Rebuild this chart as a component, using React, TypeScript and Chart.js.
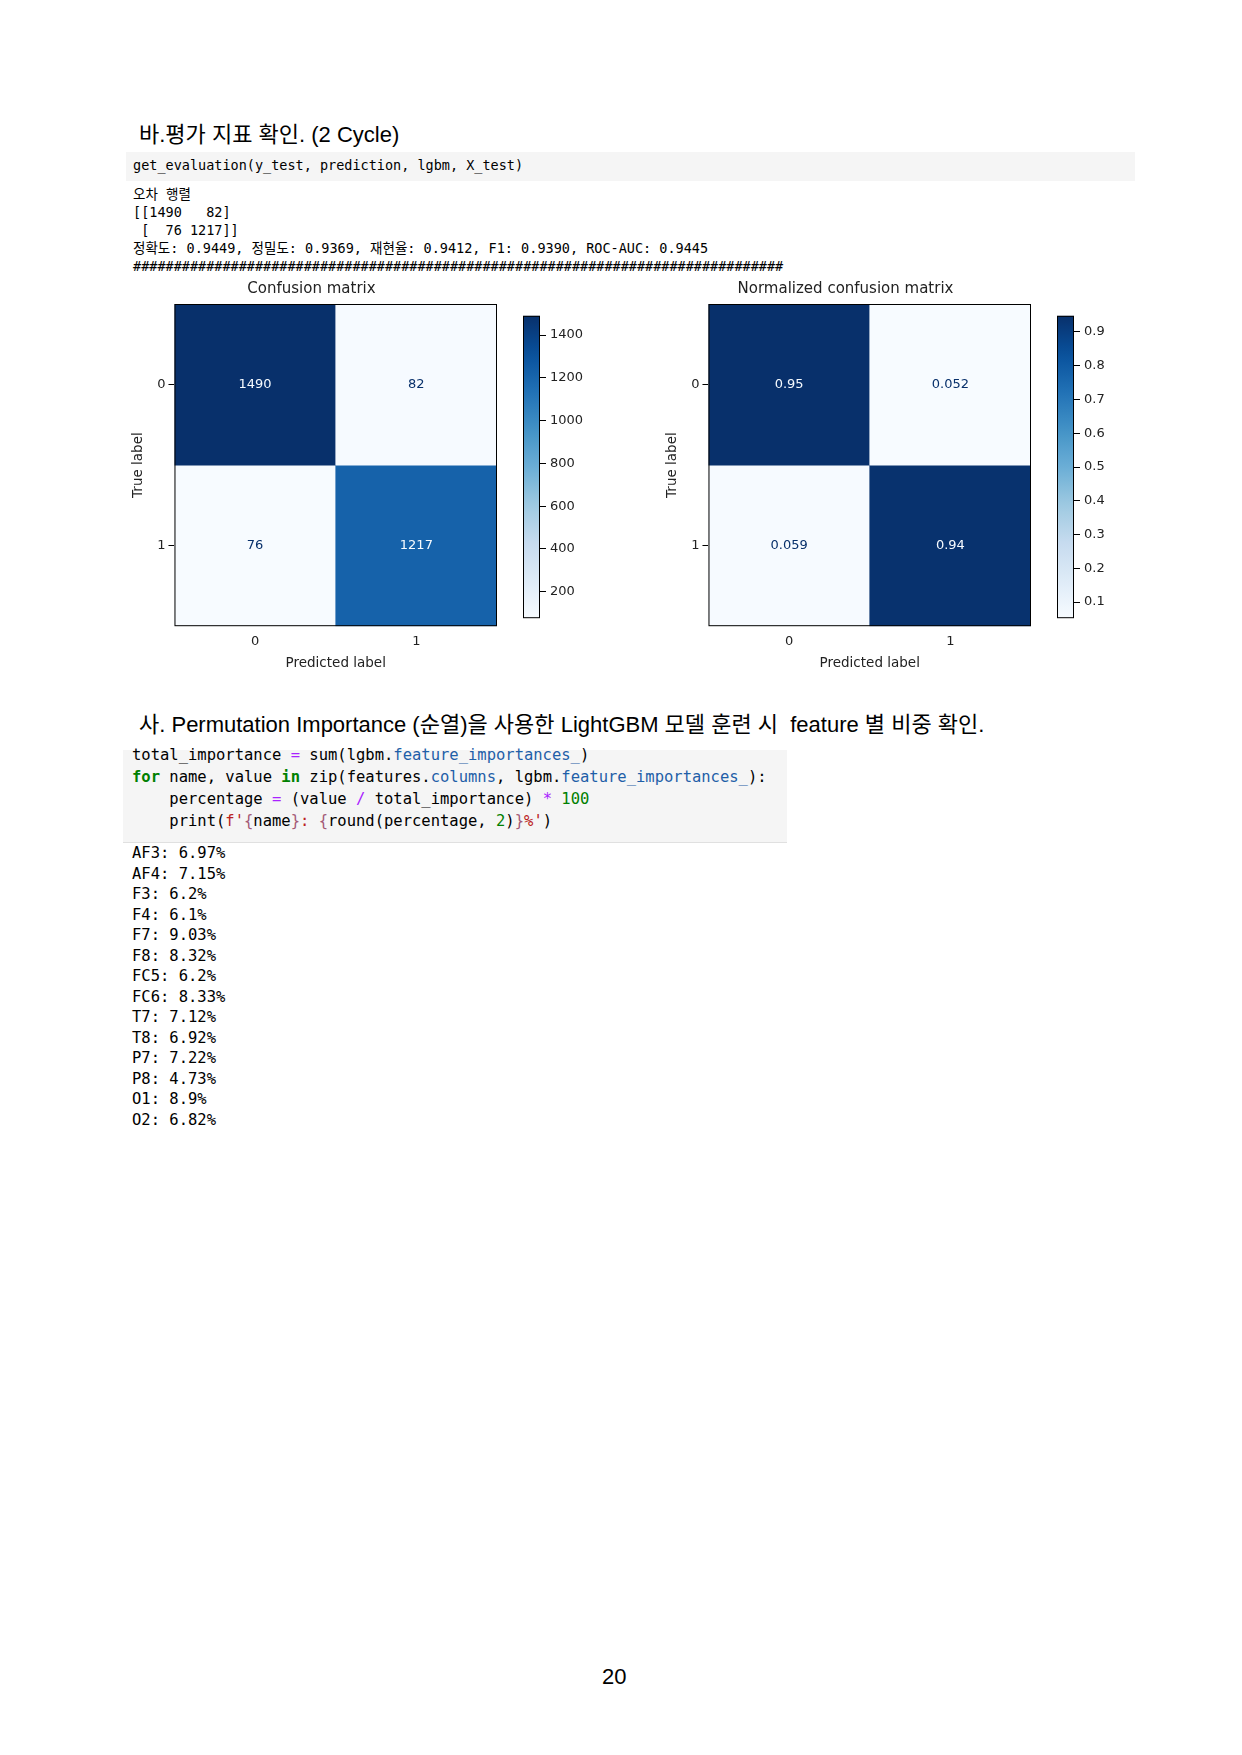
import { useEffect, useRef } from 'react';
import { Chart, registerables } from 'chart.js';

Chart.register(...registerables);

const classLabels = ['0', '1'];
const countMatrix = [
  [1490, 82],
  [76, 1217],
];
const normMatrix = [
  [0.9478, 0.0522],
  [0.0588, 0.9412],
];
const normText = [
  ['0.95', '0.052'],
  ['0.059', '0.94'],
];
const countTicks = [200, 400, 600, 800, 1000, 1200, 1400];
const normTicks = [0.1, 0.2, 0.3, 0.4, 0.5, 0.6, 0.7, 0.8, 0.9];
const featureNames = ['AF3', 'AF4', 'F3', 'F4', 'F7', 'F8', 'FC5', 'FC6', 'T7', 'T8', 'P7', 'P8', 'O1', 'O2'];
const featurePercent = ['6.97', '7.15', '6.2', '6.1', '9.03', '8.32', '6.2', '8.33', '7.12', '6.92', '7.22', '4.73', '8.9', '6.82'];

// matplotlib "Blues"
const BLUES = [
  [247, 251, 255], [222, 235, 247], [198, 219, 239], [158, 202, 225], [107, 174, 214],
  [66, 146, 198], [33, 113, 181], [8, 81, 156], [8, 48, 107],
];
function blues(t: number) {
  const x = Math.max(0, Math.min(1, t)) * (BLUES.length - 1);
  const i = Math.min(Math.floor(x), BLUES.length - 2);
  const f = x - i;
  const c = BLUES[i].map((v, k) => Math.round(v + (BLUES[i + 1][k] - v) * f));
  return `rgb(${c[0]},${c[1]},${c[2]})`;
}

const MPL_FONT = "'DejaVu Sans', sans-serif";
const MONO = "'DejaVu Sans Mono', monospace";

function Heatmap({ title, matrix, texts, ticks, left, top }: {
  title: string; matrix: number[][]; texts: string[][]; ticks: number[]; left: number; top: number;
}) {
  const ref = useRef<HTMLCanvasElement>(null);
  const cbRef = useRef<HTMLCanvasElement>(null);

  useEffect(() => {
    if (!ref.current || !cbRef.current) return;
    const flat = matrix.flat();
    const lo = Math.min(...flat);
    const hi = Math.max(...flat);
    const norm = (v: number) => (v - lo) / (hi - lo);

    // rows: y range [r, r+1], row 0 on top (y from 1 to 2)
    const datasets = matrix.map((row, r) => ({
      data: row.map(() => [1 - r, 2 - r] as [number, number]),
      backgroundColor: row.map((v) => blues(norm(v))),
      borderWidth: 0,
      grouped: false,
      categoryPercentage: 1,
      barPercentage: 1,
    }));

    const cellText = {
      id: 'cellText',
      afterDatasetsDraw(chart: any) {
        const { ctx, scales, chartArea } = chart;
        ctx.save();
        ctx.font = `13px ${MPL_FONT}`;
        ctx.textAlign = 'center';
        ctx.textBaseline = 'middle';
        matrix.forEach((row, r) => row.forEach((v, c) => {
          ctx.fillStyle = norm(v) > 0.5 ? blues(0) : blues(1);
          ctx.fillText(texts[r][c], scales.x.getPixelForValue(c), scales.y.getPixelForValue(1.5 - r));
        }));
        ctx.strokeStyle = '#000';
        ctx.lineWidth = 1;
        ctx.strokeRect(chartArea.left + 0.5, chartArea.top + 0.5, chartArea.width - 1, chartArea.height - 1);
        ctx.restore();
      },
    };

    const chart = new Chart(ref.current, {
      type: 'bar',
      data: { labels: classLabels, datasets },
      options: {
        animation: false,
        responsive: false,
        layout: { padding: { left: 6, right: 2, top: 0, bottom: 0 } },
        plugins: {
          legend: { display: false },
          tooltip: { enabled: false },
          title: { display: true, text: title, color: '#222', font: { family: MPL_FONT, size: 15, weight: 'normal' }, padding: { top: 0, bottom: 6 } },
        },
        scales: {
          x: {
            grid: { display: false, drawOnChartArea: false, drawTicks: true, tickLength: 6, color: '#000' },
            border: { display: false },
            ticks: { color: '#222', font: { family: MPL_FONT, size: 13 }, padding: 2 },
            title: { display: true, text: 'Predicted label', color: '#222', font: { family: MPL_FONT, size: 13.5 }, padding: { top: 4 } },
          },
          y: {
            min: 0, max: 2,
            afterBuildTicks: (s: any) => { s.ticks = [{ value: 1.5 }, { value: 0.5 }]; },
            grid: { drawOnChartArea: false, drawTicks: true, tickLength: 6, color: '#000' },
            border: { display: false },
            ticks: { color: '#222', font: { family: MPL_FONT, size: 13 }, padding: 3, callback: (v: any) => (v > 1 ? classLabels[0] : classLabels[1]) },
            title: { display: true, text: 'True label', color: '#222', font: { family: MPL_FONT, size: 13.5 }, padding: { bottom: 8 } },
          },
        },
      },
      plugins: [cellText],
    });

    const cb = new Chart(cbRef.current, {
      type: 'bar',
      data: {
        labels: [''],
        datasets: [{
          data: [[lo, hi] as [number, number]],
          borderWidth: 0,
          categoryPercentage: 1,
          barPercentage: 1,
          backgroundColor: (c: any) => {
            const area = c.chart.chartArea;
            if (!area) return blues(0.5);
            const g = c.chart.ctx.createLinearGradient(0, area.bottom, 0, area.top);
            for (let i = 0; i <= 20; i++) g.addColorStop(i / 20, blues(i / 20));
            return g;
          },
        }],
      },
      options: {
        animation: false,
        responsive: false,
        layout: { padding: { left: 1, top: 1, bottom: 1 } },
        plugins: { legend: { display: false }, tooltip: { enabled: false } },
        scales: {
          x: { display: false },
          y: {
            position: 'right', min: lo, max: hi,
            afterBuildTicks: (s: any) => { s.ticks = ticks.map((value) => ({ value })); },
            afterFit: (s: any) => { s.width = 56; },
            grid: { drawOnChartArea: false, drawTicks: true, tickLength: 6, color: '#000' },
            border: { display: false },
            ticks: { color: '#222', font: { family: MPL_FONT, size: 13 }, padding: 4, callback: (v: any) => String(v) },
          },
        },
      },
      plugins: [{
        id: 'frame',
        afterDatasetsDraw(c: any) {
          const a = c.chartArea;
          c.ctx.save();
          c.ctx.strokeStyle = '#000';
          c.ctx.strokeRect(a.left + 0.5, a.top + 0.5, a.width - 1, a.height - 1);
          c.ctx.restore();
        },
      }],
    });

    return () => { chart.destroy(); cb.destroy(); };
  }, []);

  return (
    <>
      <canvas ref={ref} width={379} height={396} style={{ position: 'absolute', left, top }} />
      <canvas ref={cbRef} width={74} height={326} style={{ position: 'absolute', left: left + 402, top: 304 }} />
    </>
  );
}

const mono = (size: number): React.CSSProperties => ({ fontFamily: MONO, fontSize: size, whiteSpace: 'pre', color: '#000' });

export default function App() {
  const kw = { color: '#008000', fontWeight: 'bold' } as React.CSSProperties;
  const op = { color: '#aa22ff' };
  const at = { color: '#1f5fa8' };
  const num = { color: '#008000' };
  const str = { color: '#ba2121' };
  const brace = { color: '#a45a77' };
  return (
    <div style={{ position: 'relative', width: 1242, height: 1755, background: '#fff', margin: -8, fontFamily: "'Liberation Sans', Arial, sans-serif" }}>
      <div style={{ position: 'absolute', left: 139, top: 116, fontSize: 22, fontFamily: "'Liberation Sans', 'Noto Sans CJK KR', sans-serif" }}>
        바.평가 지표 확인. (2 Cycle)
      </div>
      <div style={{ position: 'absolute', left: 126, top: 152, width: 1009, height: 29, background: '#f5f5f5' }} />
      <div style={{ position: 'absolute', left: 133, top: 157, ...mono(13.5) }}>get_evaluation(y_test, prediction, lgbm, X_test)</div>
      <div style={{ position: 'absolute', left: 133, top: 185, ...mono(13.5), lineHeight: '18px', fontFamily: `${MONO}, 'Noto Sans CJK KR'` }}>
        {'오차 행렬\n[[1490   82]\n [  76 1217]]\n정확도: 0.9449, 정밀도: 0.9369, 재현율: 0.9412, F1: 0.9390, ROC-AUC: 0.9445\n' + '#'.repeat(80)}
      </div>

      <Heatmap title="Confusion matrix" matrix={countMatrix} texts={countMatrix.map((r) => r.map(String))} ticks={countTicks} left={120} top={280} />
      <Heatmap title="Normalized confusion matrix" matrix={normMatrix} texts={normText} ticks={normTicks} left={654} top={280} />

      <div style={{ position: 'absolute', left: 139, top: 706, fontSize: 22, fontFamily: "'Liberation Sans', 'Noto Sans CJK KR', sans-serif", whiteSpace: 'pre' }}>
        사. Permutation Importance (순열)을 사용한 LightGBM 모델 훈련 시  feature 별 비중 확인.
      </div>
      <div style={{ position: 'absolute', left: 123, top: 750, width: 664, height: 92, background: '#f5f5f5', borderBottom: '1px solid #e0e0e0' }} />
      <div style={{ position: 'absolute', left: 132, top: 744, ...mono(15.5), lineHeight: '22px' }}>
        total_importance <span style={op}>=</span> sum(lgbm.<span style={at}>feature_importances_</span>){'\n'}
        <span style={kw}>for</span> name, value <span style={kw}>in</span> zip(features.<span style={at}>columns</span>, lgbm.<span style={at}>feature_importances_</span>):{'\n'}
        {'    '}percentage <span style={op}>=</span> (value <span style={op}>/</span> total_importance) <span style={op}>*</span> <span style={num}>100</span>{'\n'}
        {'    '}print(<span style={str}>f'</span><span style={brace}>{'{'}</span>name<span style={brace}>{'}'}</span><span style={str}>: </span><span style={brace}>{'{'}</span>round(percentage, <span style={num}>2</span>)<span style={brace}>{'}'}</span><span style={str}>%'</span>)
      </div>
      <div style={{ position: 'absolute', left: 132, top: 843, ...mono(15.5), lineHeight: '20.5px' }}>
        {featureNames.map((n, i) => `${n}: ${featurePercent[i]}%`).join('\n')}
      </div>
      <div style={{ position: 'absolute', left: 602, top: 1664, fontSize: 22 }}>20</div>
    </div>
  );
}
